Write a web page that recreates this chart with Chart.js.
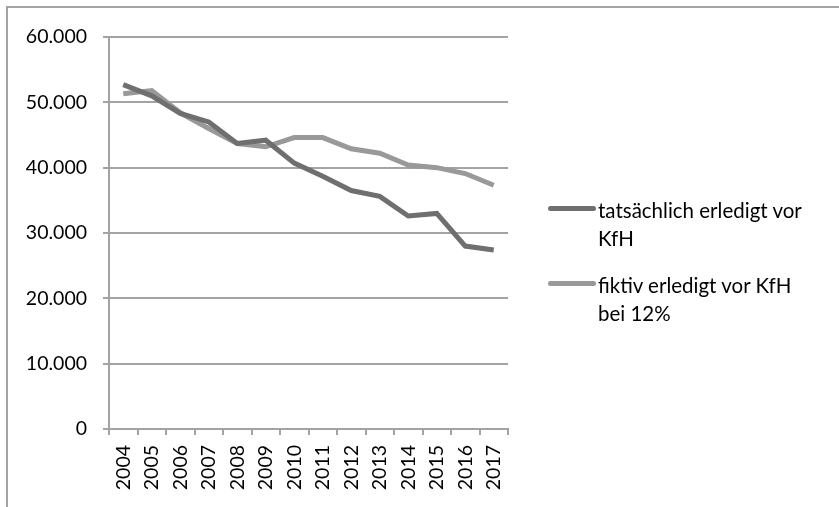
<!DOCTYPE html>
<html><head><meta charset="utf-8">
<script src="https://cdn.jsdelivr.net/npm/chart.js@4/dist/chart.umd.min.js"></script>
<style>
html,body{margin:0;padding:0;background:#fff;}
#wrap{position:relative;width:839px;height:507px;overflow:hidden;}
#frame{position:absolute;left:6px;top:6px;width:900px;height:600px;border-top:2px solid #a3a3a3;border-left:2px solid #a3a3a3;box-sizing:border-box;}
#c{position:absolute;left:0;top:0;}
.leg{position:absolute;left:598px;font-family:Lato,"Open Sans",sans-serif;font-size:20.5px;line-height:28px;color:#000;white-space:nowrap;}
.sw{position:absolute;left:548px;width:48px;height:5px;border-radius:3px;}
</style></head><body>
<div id="wrap">
<div id="frame"></div>
<canvas id="c" width="839" height="507"></canvas>
<div class="sw" style="top:206px;background:#6f6f6f"></div>
<div class="leg" style="top:196px">tatsächlich erledigt vor<br>KfH</div>
<div class="sw" style="top:281px;background:#999999"></div>
<div class="leg" style="top:271px">fiktiv erledigt vor KfH<br>bei 12%</div>
</div>
<script>
const years = ["2004","2005","2006","2007","2008","2009","2010","2011","2012","2013","2014","2015","2016","2017"];
const actual = [52700,51000,48300,47000,43700,44200,40700,38700,36500,35600,32600,33000,28000,27400];
const fictive = [51300,51800,48400,46000,43700,43200,44600,44600,42900,42200,40400,40000,39100,37300];
const seriesNames = ["tatsächlich erledigt vor KfH","fiktiv erledigt vor KfH bei 12%"];
const yTicks = [0,10000,20000,30000,40000,50000,60000];

const gridColor = "#a3a3a3";
new Chart(document.getElementById("c"), {
  type: "line",
  data: {
    labels: years,
    datasets: [
      {label: seriesNames[0], data: actual, borderColor: "#6f6f6f", borderWidth: 5, pointRadius: 0, tension: 0, fill:false},
      {label: seriesNames[1], data: fictive, borderColor: "#999999", borderWidth: 5, pointRadius: 0, tension: 0, fill:false}
    ]
  },
  options: {
    responsive: false,
    animation: false,
    events: [],
    layout: {padding: {left: 0, right: 331, top: 37, bottom: 0}},
    plugins: {legend: {display: false}, tooltip: {enabled: false}},
    scales: {
      x: {
        type: "category",
        offset: true,
        grid: {display: true, drawOnChartArea: false, drawTicks: true, tickLength: 6, color: gridColor, lineWidth: 2, offset: true},
        border: {display: true, color: gridColor, width: 2},
        ticks: {minRotation: 90, maxRotation: 90, autoSkip: false, padding: 10, color: "#000", font: {family: "Lato", size: 19.5}},
        afterFit: s => { s.height = 78; }
      },
      y: {
        min: 0, max: 60000,
        afterBuildTicks: s => { s.ticks = yTicks.map(v => ({value: v})); },
        grid: {color: gridColor, lineWidth: 2, tickLength: 6},
        border: {display: true, color: gridColor, width: 2},
        ticks: {padding: 16, color: "#000", font: {family: "Lato", size: 19.5},
          callback: v => v === 0 ? "0" : v.toLocaleString("de-DE")},
        afterFit: s => { s.width = 109; }
      }
    }
  }
});
</script>
</body></html>
